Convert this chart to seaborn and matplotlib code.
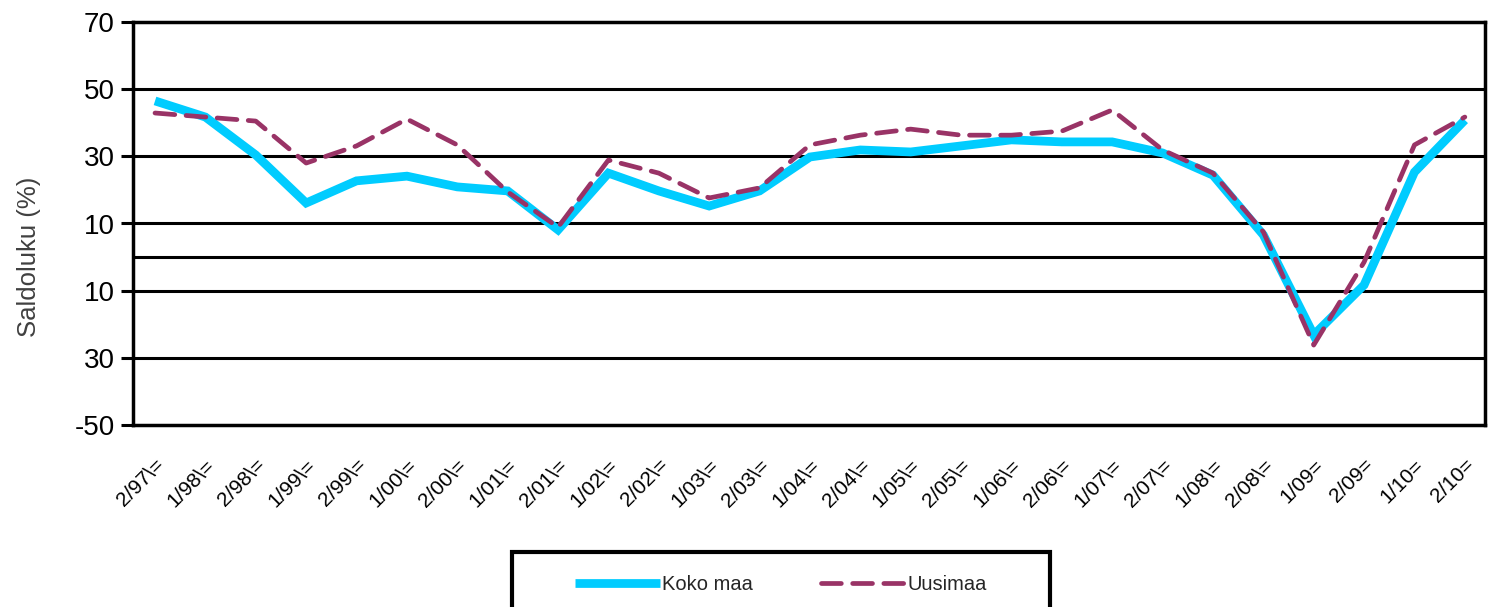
import matplotlib
matplotlib.use("Agg")
import matplotlib.pyplot as plt
import seaborn as sns
import pandas as pd
from matplotlib.patches import Rectangle

periods = ["2/97\\=", "1/98\\=", "2/98\\=", "1/99\\=", "2/99\\=", "1/00\\=", "2/00\\=",
           "1/01\\=", "2/01\\=", "1/02\\=", "2/02\\=", "1/03\\=", "2/03\\=", "1/04\\=",
           "2/04\\=", "1/05\\=", "2/05\\=", "1/06\\=", "2/06\\=", "1/07\\=", "2/07\\=",
           "1/08\\=", "2/08\\=", "1/09=", "2/09=", "1/10=", "2/10="]
koko_maa = [46.5, 41.7, 30.4, 16.1, 22.7, 24.1, 20.9, 19.7, 8.1, 25.0, 19.7, 15.2, 19.7,
            29.8, 31.9, 31.3, 33.1, 34.9, 34.3, 34.3, 31.0, 24.4, 6.6, -23.2, -8.3, 25.3, 40.8]
uusimaa = [42.9, 41.7, 40.5, 28.0, 33.1, 41.1, 33.4, 19.4, 8.9, 28.9, 25.0, 17.6, 20.6,
           33.4, 36.3, 38.1, 36.3, 36.3, 37.5, 43.8, 31.9, 25.0, 7.5, -26.2, -1.5, 33.4, 41.7]
ytick_vals = [70, 50, 30, 10, -10, -30, -50]
ytick_labels = ["70", "50", "30", "10", "10", "30", "-50"]
grid_vals = [50, 30, 10, 0, -10, -30]
series_names = ["Koko maa", "Uusimaa"]

sns.set_style("white")
plt.rcParams["font.family"] = ["Liberation Sans", "DejaVu Sans"]

W, H = 1490, 607
fig = plt.figure(figsize=(W / 100, H / 100), dpi=100)
ax = fig.add_axes([133 / W, 1 - 425 / H, (1485 - 133) / W, (425 - 22) / H])

idx = list(range(len(periods)))
df1 = pd.DataFrame({"x": idx, "y": koko_maa})
df2 = pd.DataFrame({"x": idx, "y": uusimaa})

for g in grid_vals:
    ax.axhline(g, color="black", lw=2.2, zorder=1)

sns.lineplot(data=df1, x="x", y="y", ax=ax, color="#00CCFF", lw=6.3,
             label=series_names[0], zorder=3, solid_joinstyle="miter",
             solid_capstyle="butt")
sns.lineplot(data=df2, x="x", y="y", ax=ax, color="#993366", lw=3.4,
             label=series_names[1], zorder=4, dashes=(4.2, 2.4),
             dash_capstyle="round")

ax.set_xlim(-0.437, 26.4)
ax.set_ylim(-50, 70)
ax.set_yticks(ytick_vals)
ax.set_yticklabels(ytick_labels, fontsize=20, color="black")
ax.set_xticks(idx)
ax.set_xticklabels(periods, rotation=45, ha="right", rotation_mode="anchor",
                   fontsize=15, color="black")
ax.tick_params(axis="y", length=9, width=2.2, direction="out", color="black", pad=4, left=True)
ax.tick_params(axis="x", length=0, pad=22)
ax.set_xlabel("")
ax.set_ylabel("Saldoluku (%)", fontsize=18.5, color="#404040")
ax.yaxis.set_label_coords(-0.068, 0.417)
for s in ax.spines.values():
    s.set_color("black")
    s.set_linewidth(2.5)
    s.set_visible(True)

if ax.get_legend():
    ax.get_legend().remove()
handles, labels = ax.get_legend_handles_labels()

rect = Rectangle((512 / W, 1 - 618 / H), (1050 - 512) / W, (618 - 552) / H,
                 transform=fig.transFigure, fill=False, edgecolor="black", lw=3, clip_on=False)
fig.patches.append(rect)
leg = fig.legend(handles, labels, loc="center", bbox_to_anchor=(781 / W, 1 - 585 / H),
                 ncol=2, frameon=False, fontsize=14.5, handlelength=4.2,
                 columnspacing=3.4, handletextpad=0.1)

fig.savefig("out.png", dpi=100)
